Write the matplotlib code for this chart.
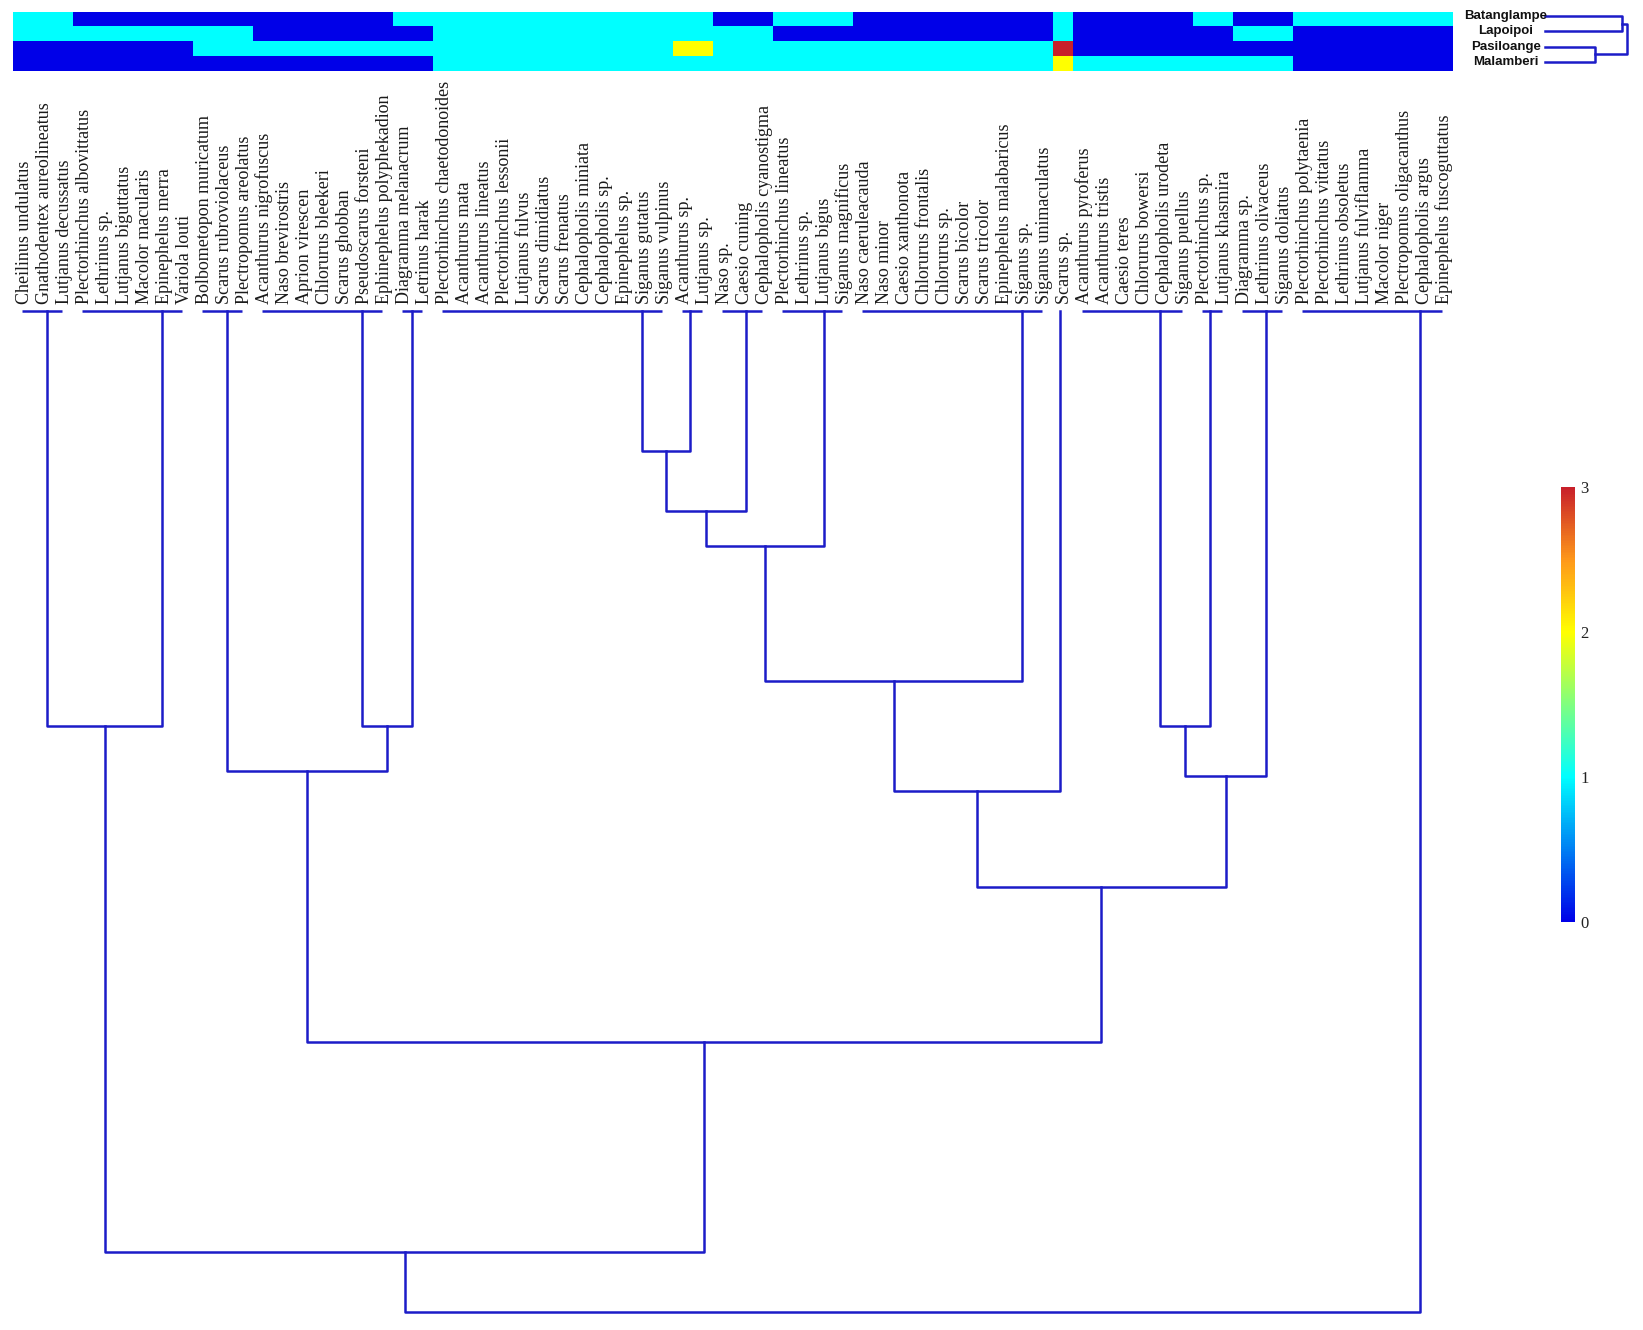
import numpy as np
import matplotlib
matplotlib.use('Agg')
import matplotlib.pyplot as plt
from matplotlib.colors import LinearSegmentedColormap
from matplotlib import transforms

# species (leaf order of the dendrogram)
species = [
    'Cheilinus undulatus', 'Gnathodentex aureolineatus', 'Lutjanus decussatus',
    'Plectorhinchus albovittatus', 'Lethrinus sp.', 'Lutjanus biguttatus', 'Macolor macularis',
    'Epinephelus merra', 'Variola louti', 'Bolbometopon muricatum', 'Scarus rubroviolaceus',
    'Plectropomus areolatus', 'Acanthurus nigrofuscus', 'Naso brevirostris', 'Aprion virescen',
    'Chlorurus bleekeri', 'Scarus ghobban', 'Pseudoscarus forsteni', 'Ephinephelus polyphekadion',
    'Diagramma melanacrum', 'Letrinus harak', 'Plectorhinchus chaetodonoides', 'Acanthurus mata',
    'Acanthurus lineatus', 'Plectorhinchus lessonii', 'Lutjanus fulvus', 'Scarus dimidiatus',
    'Scarus frenatus', 'Cephalopholis miniata', 'Cephalopholis sp.', 'Epinephelus sp.',
    'Siganus gutatus', 'Siganus vulpinus', 'Acanthurus sp.', 'Lutjanus sp.', 'Naso sp.',
    'Caesio cuning', 'Cephalopholis cyanostigma', 'Plectorhinchus lineatus', 'Lethrinus sp.',
    'Lutjanus bigus', 'Siganus magnificus', 'Naso caeruleacauda', 'Naso minor',
    'Caesio xanthonota', 'Chlorurus frontalis', 'Chlorurus sp.', 'Scarus bicolor',
    'Scarus tricolor', 'Epinephelus malabaricus', 'Siganus sp.', 'Siganus unimaculatus',
    'Scarus sp.', 'Acanthurus pyroferus', 'Acanthurus tristis', 'Caesio teres',
    'Chlorurus bowersi', 'Cephalopholis urodeta', 'Siganus puellus', 'Plectorhinchus sp.',
    'Lutjanus khasmira', 'Diagramma sp.', 'Lethrinus olivaceus', 'Siganus doliatus',
    'Plectorhinchus polytaenia', 'Plectorhinchus vittatus', 'Lethrinus obsoletus',
    'Lutjanus fulviflamma', 'Macolor niger', 'Plectropomus oligacanthus', 'Cephalopholis argus',
    'Epinephelus fuscoguttatus']

sites = ['Batanglampe', 'Lapoipoi', 'Pasiloange', 'Malamberi']

# values per site, one per species
batanglampe = [1, 1, 1, 0, 0, 0, 0, 0, 0, 0, 0, 0, 0, 0, 0, 0, 0, 0, 0, 1, 1,
               1, 1, 1, 1, 1, 1, 1, 1, 1, 1, 1, 1, 1, 1, 0, 0, 0, 1, 1, 1, 1,
               0, 0, 0, 0, 0, 0, 0, 0, 0, 0, 1, 0, 0, 0, 0, 0, 0, 1, 1, 0, 0, 0,
               1, 1, 1, 1, 1, 1, 1, 1]
lapoipoi = [1, 1, 1, 1, 1, 1, 1, 1, 1, 1, 1, 1, 0, 0, 0, 0, 0, 0, 0, 0, 0,
            1, 1, 1, 1, 1, 1, 1, 1, 1, 1, 1, 1, 1, 1, 1, 1, 1, 0, 0, 0, 0,
            0, 0, 0, 0, 0, 0, 0, 0, 0, 0, 1, 0, 0, 0, 0, 0, 0, 0, 0, 1, 1, 1,
            0, 0, 0, 0, 0, 0, 0, 0]
pasiloange = [0, 0, 0, 0, 0, 0, 0, 0, 0, 1, 1, 1, 1, 1, 1, 1, 1, 1, 1, 1, 1,
              1, 1, 1, 1, 1, 1, 1, 1, 1, 1, 1, 1, 2, 2, 1, 1, 1, 1, 1, 1, 1,
              1, 1, 1, 1, 1, 1, 1, 1, 1, 1, 3, 0, 0, 0, 0, 0, 0, 0, 0, 0, 0, 0,
              0, 0, 0, 0, 0, 0, 0, 0]
malamberi = [0, 0, 0, 0, 0, 0, 0, 0, 0, 0, 0, 0, 0, 0, 0, 0, 0, 0, 0, 0, 0,
             1, 1, 1, 1, 1, 1, 1, 1, 1, 1, 1, 1, 1, 1, 1, 1, 1, 1, 1, 1, 1,
             1, 1, 1, 1, 1, 1, 1, 1, 1, 1, 2, 1, 1, 1, 1, 1, 1, 1, 1, 1, 1, 1,
             0, 0, 0, 0, 0, 0, 0, 0]

# species clusters joined at distance 0 (first leaf, last leaf, stem position)
group_first = [0, 3, 9, 12, 19, 21, 33, 35, 38, 42, 52, 53, 59, 61, 64]
group_last = [2, 8, 11, 18, 20, 32, 34, 37, 41, 51, 52, 58, 60, 63, 71]
group_stem = [1.25, 7.0, 10.25, 17.0, 19.5, 31.0, 33.4, 36.2, 40.1, 50.0, 51.9, 56.9, 59.4, 62.2, 69.9]

# linkage between clusters (node ids: groups 0-14, then new nodes 15, 16, ...)
merge_left = [5, 15, 16, 17, 0, 3, 11, 2, 21, 18, 24, 22, 19, 27]
merge_right = [6, 7, 8, 9, 1, 4, 12, 20, 13, 10, 23, 25, 26, 14]
merge_height = [0.14, 0.20, 0.235, 0.37, 0.415, 0.415, 0.415, 0.46, 0.465, 0.48, 0.575, 0.73, 0.94, 1.0]

# linkage between sites
site_merge_left = [2, 0, 5]
site_merge_right = [3, 1, 4]
site_merge_height = [0.61, 0.94, 1.0]

W, H = 1643, 1330
fig = plt.figure(figsize=(W / 100, H / 100), dpi=100)
line_col = '#1c1cc8'


def px_axes(x0, y0, x1, y1):
    return fig.add_axes([x0 / W, 1 - y1 / H, (x1 - x0) / W, (y1 - y0) / H])


cmap = LinearSegmentedColormap.from_list('sites', [
    (0, '#0000e8'), (1 / 3, '#00ffff'), (0.5, '#80ff80'),
    (2 / 3, '#ffff00'), (0.83, '#ff9a1a'), (1, '#c8202a')])

# heatmap
ax_h = px_axes(12.5, 11.8, 1452, 71.4)
mat = np.array([batanglampe, lapoipoi, pasiloange, malamberi])
im = ax_h.imshow(mat, aspect='auto', cmap=cmap, vmin=0, vmax=3, interpolation='nearest')
ax_h.set_axis_off()

# species dendrogram
ax_d = px_axes(12.5, 311, 1452, 1312)
ax_d.set_xlim(-0.5, len(species) - 0.5)
ax_d.set_ylim(1.0, 0.0)
ax_d.set_axis_off()

xpos = list(group_stem)
hpos = [0.0] * len(group_stem)
lw = 1.8
for f, l in zip(group_first, group_last):
    if l > f:
        ax_d.plot([f, l], [0, 0], color=line_col, lw=lw, clip_on=False, solid_capstyle='butt')
for a, b, h in zip(merge_left, merge_right, merge_height):
    ax_d.plot([xpos[a], xpos[a], xpos[b], xpos[b]], [hpos[a], h, h, hpos[b]],
              color=line_col, lw=lw, clip_on=False)
    xpos.append((xpos[a] + xpos[b]) / 2)
    hpos.append(h)

lab_tr = transforms.offset_copy(ax_d.transData, fig=fig, x=2, y=7, units='dots')
for i, name in enumerate(species):
    ax_d.text(i, 0, name, rotation=90, ha='center', va='bottom', transform=lab_tr,
              family='Liberation Serif', fontsize=13, color='#1a1a1a', clip_on=False)

# site dendrogram
ax_r = px_axes(1545, 8.5, 1627, 69.5)
ax_r.set_xlim(0, 1)
ax_r.set_ylim(3.5, -0.5)
ax_r.set_axis_off()
rx = [0.0] * len(sites)
ry = list(range(len(sites)))
for a, b, h in zip(site_merge_left, site_merge_right, site_merge_height):
    ax_r.plot([rx[a], h, h, rx[b]], [ry[a], ry[a], ry[b], ry[b]],
              color=line_col, lw=1.8, clip_on=False)
    rx.append(h)
    ry.append((ry[a] + ry[b]) / 2)
for i, s in enumerate(sites):
    ax_r.text(-0.476, i, s, ha='center', va='center', family='Liberation Sans',
              fontweight='bold', fontsize=9.5, color='#111111', clip_on=False)

# colorbar
cax = px_axes(1561, 487, 1575, 922)
cb = fig.colorbar(im, cax=cax, ticks=[0, 1, 2, 3])
cb.outline.set_visible(False)
cb.ax.tick_params(length=0, pad=4)
for t in cb.ax.get_yticklabels():
    t.set_family('Liberation Serif')
    t.set_fontsize(12)
    t.set_color('#222222')

fig.savefig('out.png', dpi=100)
